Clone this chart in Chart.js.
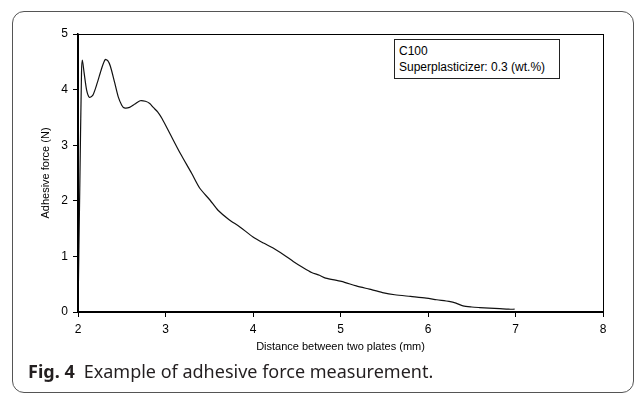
<!DOCTYPE html>
<html>
<head>
<meta charset="utf-8">
<script src="https://cdn.jsdelivr.net/npm/chart.js@4"></script>
<style>
    body { margin: 0; background: #fff; }
    #frame {
        position: absolute; left: 12px; top: 11px; width: 620px; height: 380px;
        border: 1px solid #555; border-radius: 12px;
    }
    #wrap { position: absolute; left: 0; top: 0; width: 636px; height: 394px; }
    #note {
        position: absolute; left: 394px; top: 39px; width: 160px; height: 35px;
        border: 1px solid #222; font: 12px "Liberation Sans", Arial, sans-serif;
        line-height: 16px; padding: 3px 0 0 4px; color: #000; background: #fff;
    }
    #caption {
        position: absolute; left: 28px; top: 359px;
        font: 18px "Noto Sans", "Open Sans", sans-serif; color: #231f20; white-space: nowrap;
    }
    #caption b { font-weight: bold; margin-right: 9px; }
</style>
</head>
<body>
<div id="frame"></div>
<div id="wrap"><canvas id="chart1" width="636" height="394"></canvas></div>
<div id="note">C100<br>Superplasticizer: 0.3 (wt.%)</div>
<div id="caption"><b>Fig. 4</b>Example of adhesive force measurement.</div>
<script>
// distance between plates (mm) and adhesive force (N)
const distance = [2.00, 2.02, 2.04, 2.05, 2.07, 2.10, 2.13, 2.17, 2.22, 2.27, 2.31, 2.34, 2.37, 2.42, 2.46,
    2.50, 2.53, 2.59, 2.65, 2.71, 2.77, 2.82, 2.86, 2.91, 2.96, 3.05, 3.17, 3.30, 3.39, 3.51,
    3.60, 3.72, 3.85, 4.00, 4.12, 4.23, 4.35, 4.46, 4.57, 4.67, 4.76, 4.83, 5.01, 5.18, 5.33,
    5.48, 5.62, 5.80, 5.98, 6.10, 6.24, 6.32, 6.40, 6.50, 6.59, 6.70, 6.82, 6.92, 6.99];
const force = [0.00, 2.20, 4.30, 4.53, 4.30, 3.98, 3.86, 3.90, 4.12, 4.38, 4.54, 4.52, 4.42, 4.12, 3.87,
    3.72, 3.67, 3.68, 3.74, 3.80, 3.79, 3.75, 3.68, 3.60, 3.48, 3.21, 2.85, 2.49, 2.23, 2.01,
    1.83, 1.67, 1.53, 1.35, 1.24, 1.15, 1.03, 0.91, 0.80, 0.71, 0.66, 0.61, 0.55, 0.47, 0.41,
    0.35, 0.31, 0.28, 0.25, 0.22, 0.19, 0.16, 0.11, 0.09, 0.08, 0.07, 0.06, 0.05, 0.05];
const xTicks = [2, 3, 4, 5, 6, 7, 8];
const yTicks = [0, 1, 2, 3, 4, 5];

const boxPlugin = {
    id: 'plotBox',
    afterDatasetsDraw(chart) {
        const a = chart.chartArea;
        const c = chart.ctx;
        c.save();
        c.strokeStyle = '#000';
        c.lineWidth = 1;
        c.strokeRect(a.left + 0.5, a.top + 0.5, a.right - a.left, a.bottom - a.top);
        c.restore();
    }
};

window.addEventListener('DOMContentLoaded', () => {
    const ctx1 = document.getElementById('chart1').getContext('2d');
    const tickFont = { family: '"Liberation Sans", Arial, sans-serif', size: 12 };
    new Chart(ctx1, {
        type: 'line',
        data: {
            datasets: [{
                data: distance.map((d, i) => ({ x: d, y: force[i] })),
                borderColor: '#111',
                borderWidth: 1.2,
                pointRadius: 0,
                tension: 0.25,
                fill: false
            }]
        },
        options: {
            responsive: false,
            animation: false,
            layout: { padding: { left: 0, top: 34, right: 33, bottom: 40 } },
            plugins: { legend: { display: false }, tooltip: { enabled: false } },
            scales: {
                x: {
                    type: 'linear',
                    min: 2, max: 8,
                    afterBuildTicks: s => { s.ticks = xTicks.map(v => ({ value: v })); },
                    afterFit: s => { s.height = 42; },
                    grid: { drawOnChartArea: false, tickLength: 5, color: '#000', lineWidth: 1 },
                    border: { color: '#000', width: 1.5 },
                    ticks: { color: '#000', font: tickFont, padding: 5, maxRotation: 0 },
                    title: {
                        display: true, text: 'Distance between two plates (mm)', color: '#000',
                        font: { family: '"Liberation Sans", Arial, sans-serif', size: 11 }, padding: 0
                    }
                },
                y: {
                    min: 0, max: 5,
                    afterBuildTicks: s => { s.ticks = yTicks.map(v => ({ value: v })); },
                    afterFit: s => { s.width = 78; },
                    grid: { drawOnChartArea: false, tickLength: 5, color: '#000', lineWidth: 1 },
                    border: { color: '#000', width: 1.5 },
                    ticks: { color: '#000', font: tickFont, padding: 5 },
                    title: {
                        display: true, text: 'Adhesive force (N)', color: '#000',
                        font: { family: '"Liberation Sans", Arial, sans-serif', size: 11 },
                        padding: { top: 39, bottom: 0 }
                    }
                }
            }
        },
        plugins: [boxPlugin]
    });
});
</script>
</body>
</html>
